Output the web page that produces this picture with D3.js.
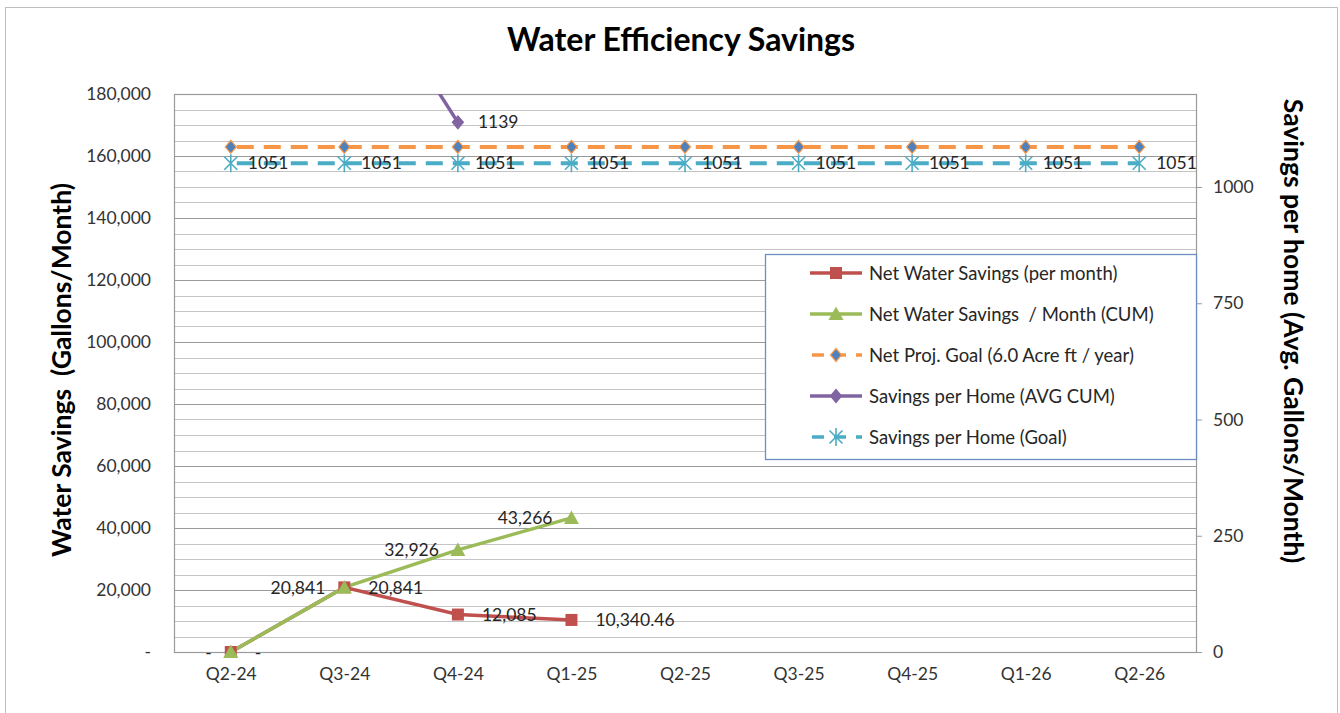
<!DOCTYPE html>
<html>
<head>
<meta charset="utf-8">
<script src="https://cdn.jsdelivr.net/npm/d3@7"></script>
<style>
  body { margin: 0; background: #fff; }
  svg text { font-family: Lato, "Open Sans", sans-serif; }
</style>
</head>
<body>
<div id="chart"></div>
<script>
// categories + series
const quarters = ["Q2-24", "Q3-24", "Q4-24", "Q1-25", "Q2-25", "Q3-25", "Q4-25", "Q1-26", "Q2-26"];
const netMonthly = [0, 20841, 12085, 10340.46, null, null, null, null, null];
const netCum = [0, 20841, 32926, 43266, null, null, null, null, null];
const projGoal = [162926, 162926, 162926, 162926, 162926, 162926, 162926, 162926, 162926];
const homeAvgCum = [null, 1520, 1139, null, null, null, null, null, null];
const homeGoal = [1051, 1051, 1051, 1051, 1051, 1051, 1051, 1051, 1051];

const leftTicks = [0, 20000, 40000, 60000, 80000, 100000, 120000, 140000, 160000, 180000];
const rightTicks = [0, 250, 500, 750, 1000];

const legendNames = [
  "Net Water Savings (per month)",
  "Net Water Savings  / Month (CUM)",
  "Net Proj. Goal (6.0 Acre ft / year)",
  "Savings per Home (AVG CUM)",
  "Savings per Home (Goal)",
];

const W = 1340, H = 713;
var margin = { top: 94, right: 144, bottom: 61, left: 174 };
var pw = W - margin.left - margin.right,
  ph = H - margin.top - margin.bottom;

var colors = {
  red: "#c0504d",
  green: "#9bbb59",
  orange: "#f79646",
  purple: "#8064a2",
  cyan: "#4bacc6",
  blue: "#4f81bd",
};

var svg = d3.select("#chart").append("svg").attr("width", W).attr("height", H);

// outer chart frame
svg.append("rect")
  .attr("x", 5.5).attr("y", 7.5)
  .attr("width", W - 8).attr("height", H)
  .attr("fill", "#fff").attr("stroke", "#bfbfbf");

svg.append("text")
  .attr("x", 681).attr("y", 51)
  .attr("text-anchor", "middle")
  .attr("font-size", 32).attr("font-weight", "bold")
  .attr("fill", "#000")
  .text("Water Efficiency Savings");

var g = svg.append("g").attr("transform", `translate(${margin.left}, ${margin.top})`);

var x = d3.scalePoint().domain(quarters).range([0, pw]).padding(0.5);
var y = d3.scaleLinear().domain([0, 180000]).range([ph, 0]);
var y2 = d3.scaleLinear().domain([0, 1200]).range([ph, 0]);

g.append("defs").append("clipPath").attr("id", "plotclip")
  .append("rect").attr("width", pw).attr("height", ph);

// gridlines: minor every 5,000, major every 20,000
var minor = d3.range(0, 180001, 5000);
g.selectAll(".minor")
  .data(minor)
  .enter()
  .append("line")
  .attr("x1", 0).attr("x2", pw)
  .attr("y1", (d) => Math.round(y(d)) + 0.5)
  .attr("y2", (d) => Math.round(y(d)) + 0.5)
  .attr("stroke", (d) => (d % 20000 === 0 ? "#9a9a9a" : "#c4c4c4"))
  .attr("stroke-width", 1.2);

// plot frame
g.append("rect")
  .attr("x", 0.5).attr("y", 0.5).attr("width", pw).attr("height", ph)
  .attr("fill", "none").attr("stroke", "#9a9a9a").attr("stroke-width", 1.2);

// left axis
var yAxis = d3.axisLeft(y)
  .tickValues(leftTicks)
  .tickSize(0)
  .tickPadding(23)
  .tickFormat((d) => (d === 0 ? "-" : d3.format(",")(d)));
g.append("g").attr("class", "axis").call(yAxis);

// right axis
var y2Axis = d3.axisRight(y2).tickValues(rightTicks).tickSize(6).tickPadding(11).tickFormat(d3.format("d"));
g.append("g").attr("class", "axis").attr("transform", `translate(${pw}, 0)`).call(y2Axis);

// x axis
var xAxis = d3.axisBottom(x).tickSize(0).tickPadding(16);
g.append("g").attr("class", "axis").attr("transform", `translate(0, ${ph})`).call(xAxis);

g.selectAll(".axis .domain").remove();
g.selectAll(".axis line").attr("stroke", "#9a9a9a");
g.selectAll(".axis text")
  .attr("font-size", 17.5)
  .attr("fill", "#333")
  .style("font-family", "Lato, 'Open Sans', sans-serif");

// axis titles
svg.append("text")
  .attr("transform", "translate(71, 370) rotate(-90)")
  .attr("text-anchor", "middle")
  .attr("font-size", 26.5).attr("font-weight", "bold")
  .attr("fill", "#000")
  .style("white-space", "pre")
  .text("Water Savings  (Gallons/Month)");

svg.append("text")
  .attr("transform", "translate(1284, 331) rotate(90)")
  .attr("text-anchor", "middle")
  .attr("font-size", 26.5).attr("font-weight", "bold")
  .attr("fill", "#000")
  .text("Savings per home (Avg. Gallons/Month)");

// series
function toPts(values) {
  return quarters
    .map((q, i) => ({ q: q, v: values[i] }))
    .filter((d) => d.v !== null);
}

var lineL = d3.line().x((d) => x(d.q)).y((d) => y(d.v));
var lineR = d3.line().x((d) => x(d.q)).y((d) => y2(d.v));

var plot = g.append("g").attr("clip-path", "url(#plotclip)");
var marks = g.append("g");
var labels = g.append("g");

// marker drawers
function square(sel, c) {
  sel.append("rect").attr("x", -6).attr("y", -6).attr("width", 12).attr("height", 12).attr("fill", c);
}
function triangle(sel, c) {
  sel.append("path").attr("d", "M0,-7.5L7.5,6L-7.5,6Z").attr("fill", c);
}
function diamond(sel, fill, stroke) {
  sel.append("path").attr("d", "M0,-6.5L5.5,0L0,6.5L-5.5,0Z").attr("fill", fill).attr("stroke", stroke).attr("stroke-width", 1.2);
}
function star(sel, c) {
  sel.append("path")
    .attr("d", "M-6.5,-6.5L6.5,6.5M-6.5,6.5L6.5,-6.5M0,-9L0,9")
    .attr("fill", "none").attr("stroke", c).attr("stroke-width", 1.6);
}

var fmtVal = (v) => (v === 0 ? "-" : Number.isInteger(v) ? d3.format(",")(v) : d3.format(",.2f")(v));

// Net Proj. Goal (orange dashed, left axis)
var goalPts = toPts(projGoal);
plot.append("path").attr("d", lineL(goalPts))
  .attr("fill", "none").attr("stroke", colors.orange).attr("stroke-width", 4)
  .attr("stroke-dasharray", "17,10").attr("stroke-dashoffset", -6);
marks.selectAll(".gm").data(goalPts).enter().append("g")
  .attr("transform", (d) => `translate(${x(d.q)}, ${y(d.v)})`)
  .each(function () { diamond(d3.select(this), colors.blue, colors.orange); });

// Savings per Home (Goal) - cyan dashed, right axis
var hgPts = toPts(homeGoal);
plot.append("path").attr("d", lineR(hgPts))
  .attr("fill", "none").attr("stroke", colors.cyan).attr("stroke-width", 4)
  .attr("stroke-dasharray", "17,10").attr("stroke-dashoffset", -6);
marks.selectAll(".hm").data(hgPts).enter().append("g")
  .attr("transform", (d) => `translate(${x(d.q)}, ${y2(d.v)})`)
  .each(function () { star(d3.select(this), colors.cyan); });
labels.selectAll(".hl").data(hgPts).enter().append("text")
  .attr("x", (d) => x(d.q) + 17).attr("y", (d) => y2(d.v) + 6)
  .attr("font-size", 17.5).attr("fill", "#262626")
  .text((d) => d.v);

// Savings per Home (AVG CUM) - purple, right axis
var haPts = toPts(homeAvgCum);
plot.append("path").attr("d", lineR(haPts))
  .attr("fill", "none").attr("stroke", colors.purple).attr("stroke-width", 3.5);
var haVisible = haPts.filter((d) => d.v <= 1200);
marks.selectAll(".am").data(haVisible).enter().append("g")
  .attr("transform", (d) => `translate(${x(d.q)}, ${y2(d.v)})`)
  .each(function () { diamond(d3.select(this), colors.purple, colors.purple); });
labels.selectAll(".al").data(haVisible).enter().append("text")
  .attr("x", (d) => x(d.q) + 20).attr("y", (d) => y2(d.v) + 6)
  .attr("font-size", 17.5).attr("fill", "#262626")
  .text((d) => d.v);

// Net Water Savings (per month) - red, left axis
var redPts = toPts(netMonthly);
plot.append("path").attr("d", lineL(redPts))
  .attr("fill", "none").attr("stroke", colors.red).attr("stroke-width", 3.5);
marks.selectAll(".rm").data(redPts).enter().append("g")
  .attr("transform", (d) => `translate(${x(d.q)}, ${y(d.v)})`)
  .each(function () { square(d3.select(this), colors.red); });

// Net Water Savings / Month (CUM) - green, left axis
var greenPts = toPts(netCum);
plot.append("path").attr("d", lineL(greenPts))
  .attr("fill", "none").attr("stroke", colors.green).attr("stroke-width", 3.5);
marks.selectAll(".grm").data(greenPts).enter().append("g")
  .attr("transform", (d) => `translate(${x(d.q)}, ${y(d.v)})`)
  .each(function () { triangle(d3.select(this), colors.green); });

labels.selectAll(".rl").data(redPts).enter().append("text")
  .attr("x", (d) => x(d.q) + 24).attr("y", (d) => y(d.v) + 6.5)
  .attr("font-size", 17.5).attr("fill", "#262626")
  .text((d) => fmtVal(d.v));
labels.selectAll(".gl").data(greenPts).enter().append("text")
  .attr("x", (d) => x(d.q) - 19).attr("y", (d) => y(d.v) + 6.5)
  .attr("text-anchor", "end")
  .attr("font-size", 17.5).attr("fill", "#262626")
  .text((d) => fmtVal(d.v));

// legend
var lg = svg.append("g").attr("transform", "translate(765, 254)");
lg.append("rect")
  .attr("x", 0.5).attr("y", 0.5).attr("width", 431).attr("height", 205)
  .attr("fill", "#fff").attr("stroke", "#6d8fc4").attr("stroke-width", 1.3);

var legendStyle = [
  { c: colors.red, dash: null, m: (s) => square(s, colors.red) },
  { c: colors.green, dash: null, m: (s) => triangle(s, colors.green) },
  { c: colors.orange, dash: "14,8", m: (s) => diamond(s, colors.blue, colors.orange) },
  { c: colors.purple, dash: null, m: (s) => diamond(s, colors.purple, colors.purple) },
  { c: colors.cyan, dash: "14,8", m: (s) => star(s, colors.cyan) },
];

var items = lg.selectAll(".li")
  .data(legendNames)
  .enter()
  .append("g")
  .attr("transform", (d, i) => `translate(0, ${19 + i * 41})`);

items.append("line")
  .attr("x1", 45).attr("x2", 97)
  .attr("stroke", (d, i) => legendStyle[i].c)
  .attr("stroke-width", 3.5)
  .attr("stroke-dasharray", (d, i) => (legendStyle[i].dash ? "12,10" : null))
  .attr("stroke-dashoffset", -2);
items.append("g").attr("transform", "translate(71, 0)")
  .each(function (d, i) { legendStyle[i].m(d3.select(this)); });
items.append("text")
  .attr("x", 104).attr("y", 6.5)
  .attr("font-size", 18.5).attr("fill", "#262626")
  .style("white-space", "pre")
  .text((d) => d);
</script>
</body>
</html>
